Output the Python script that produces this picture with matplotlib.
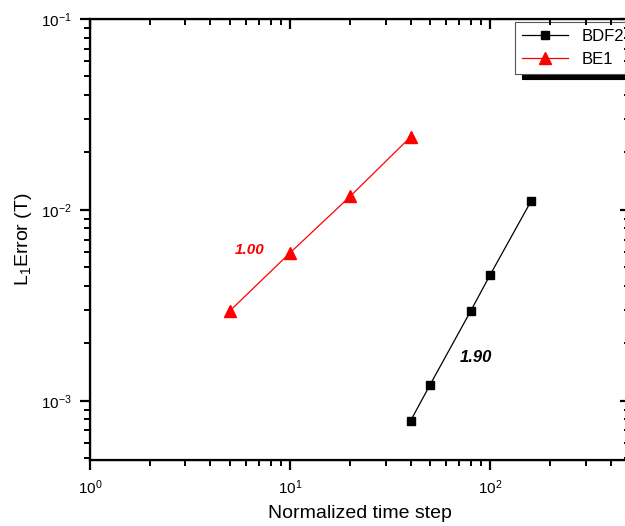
import matplotlib
matplotlib.use("Agg")
import matplotlib.pyplot as plt

plt.rcParams['font.family'] = ['Liberation Sans', 'DejaVu Sans']
plt.rcParams['mathtext.fontset'] = 'custom'
plt.rcParams['mathtext.rm'] = 'Liberation Sans'
plt.rcParams['mathtext.it'] = 'Liberation Sans:italic'

# data
be1_steps = [5, 10, 20, 40]
be1_error = [2.96e-3, 5.96e-3, 1.18e-2, 2.41e-2]
bdf2_steps = [40, 50, 80, 100, 160]
bdf2_error = [7.85e-4, 1.21e-3, 2.96e-3, 4.57e-3, 1.11e-2]

fig = plt.figure(figsize=(6.25, 5.26), dpi=100)
# right edge of the axes sits just past the figure edge, like the cropped original
ax = fig.add_axes([90/625, 66/526, 540/625, 441/526])

ax.plot(bdf2_steps, bdf2_error, 'k-', marker='s', markersize=6, linewidth=0.9, label='BDF2')
ax.plot(be1_steps, be1_error, '-', color='red', marker='^', markersize=8, linewidth=0.9, label='BE1')

ax.set_xscale('log')
ax.set_yscale('log')
ax.set_xlim(1, 500)
ax.set_ylim(4.9e-4, 1e-1)

ax.text(6.3, 6.2e-3, '1.00', color='red', fontsize=11, fontweight='bold', fontstyle='italic',
        ha='center', va='center')
ax.text(85, 1.68e-3, '1.90', color='black', fontsize=12, fontweight='bold', fontstyle='italic',
        ha='center', va='center')

ax.set_xlabel('Normalized time step', fontsize=14, labelpad=6)
ax.set_ylabel(r'L$_1$Error (T)', fontsize=14, labelpad=5)

for s in ax.spines.values():
    s.set_linewidth(1.6)
ax.tick_params(which='major', direction='out', length=7, width=1.6, labelsize=11, pad=6)
ax.tick_params(which='minor', direction='out', length=4, width=1.4)

# mirrored axes with inward ticks on top and right
axt = ax.twiny()
axt.set_xscale('log')
axt.set_xlim(ax.get_xlim())
axt.tick_params(which='major', direction='in', length=7, width=1.6, labeltop=False)
axt.tick_params(which='minor', direction='in', length=4, width=1.4)
axr = ax.twinx()
axr.set_yscale('log')
axr.set_ylim(ax.get_ylim())
axr.tick_params(which='major', direction='in', length=7, width=1.6, labelright=False)
axr.tick_params(which='minor', direction='in', length=4, width=1.4)

leg = ax.legend(loc='upper left', bbox_to_anchor=(515/625, 1 - 22/526),
                bbox_transform=fig.transFigure, borderaxespad=0, fontsize=12, frameon=True,
                fancybox=False, handlelength=2.8, borderpad=0.4, labelspacing=0.5,
                shadow={'color': 'black', 'alpha': 1.0, 'ox': 5, 'oy': -4})
leg.get_frame().set_edgecolor('#555555')
leg.get_frame().set_linewidth(0.8)
leg.set_zorder(10)

fig.savefig('out.png', dpi=100)
